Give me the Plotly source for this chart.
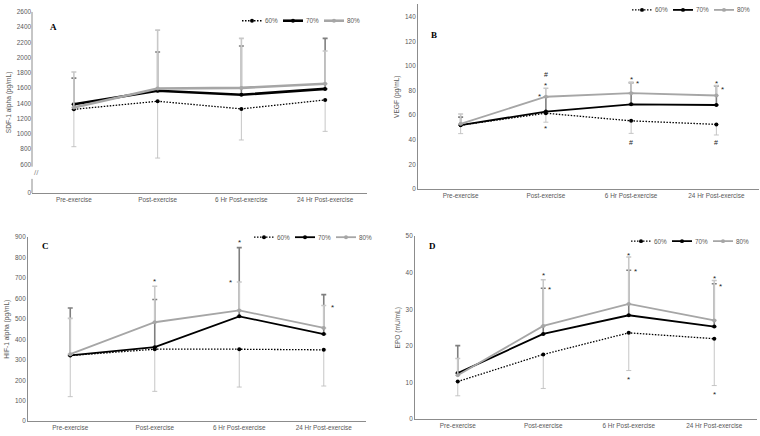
import plotly.graph_objects as go

# ---------------- data ----------------
categories = ["Pre-exercise", "Post-exercise", "6 Hr Post-exercise", "24 Hr Post-exercise"]
series_names = ["60%", "70%", "80%"]

# Panel A: SDF-1 alpha (pg/mL)
a_60 = [1322, 1428, 1328, 1445]
a_70 = [1388, 1565, 1513, 1590]
a_80 = [1346, 1595, 1603, 1658]
a_60_err_low = [490, 745, 408, 412]
a_70_err_up = [343, 508, 640, 662]
a_80_err_up = [465, 765, 650, 428]

# Panel B: VEGF (pg/mL)
b_60 = [51.9, 61.6, 55.4, 52.5]
b_70 = [52.0, 62.9, 68.8, 68.3]
b_80 = [53.0, 75.0, 77.9, 76.0]
b_60_err_low = [6.9, 7.3, 10.2, 8.6]
b_70_err_up = [6.4, 12.0, 17.7, 15.5]
b_80_err_up = [8.0, 6.9, 8.6, 8.0]

# Panel C: HIF-1 alpha (pg/mL)
c_60 = [321, 352, 352, 349]
c_70 = [322, 362, 513, 426]
c_80 = [328, 484, 542, 456]
c_60_err_low = [201, 206, 185, 177]
c_70_err_up = [232, 233, 336, 193]
c_80_err_up = [175, 176, 139, 110]

# Panel D: EPO (mU/mL)
d_60 = [10.3, 17.7, 23.6, 22.0]
d_70 = [12.6, 23.3, 28.4, 25.3]
d_80 = [12.0, 25.5, 31.5, 27.0]
d_60_err_low = [3.9, 9.3, 10.3, 12.8]
d_70_err_up = [7.5, 12.5, 12.3, 11.7]
d_80_err_up = [4.6, 12.6, 12.8, 10.9]

# significance markers: (category index, value, symbol, side)
b_marks = [(1, 93, "#", 0), (1, 85.5, "*", 0), (1, 76.5, "*", -1), (1, 50.4, "*", 0),
           (2, 90.4, "*", 0), (2, 87, "*", 1), (2, 37.6, "#", 0),
           (3, 87.2, "*", 0), (3, 82.4, "*", 1), (3, 37.6, "#", 0)]
c_marks = [(1, 691, "*", 0), (2, 882, "*", 0), (2, 686, "*", -1.4), (3, 567, "*", 1.4)]
d_marks = [(1, 39.7, "*", 0), (1, 35.9, "*", 1), (2, 45.3, "*", 0), (2, 40.8, "*", 1),
           (2, 11.5, "*", 0), (3, 39.0, "*", 0), (3, 36.7, "*", 1), (3, 7.4, "*", 0)]

panel_letters = ["A", "B", "C", "D"]
y_titles = ["SDF-1 alpha (pg/mL)", "VEGF (pg/mL)", "HIF-1 alpha (pg/mL)", "EPO (mU/mL)"]

# ---------------- style ----------------
FONT = "Liberation Sans"
TXT = "#595959"
AX = "#8c8c8c"
C60, C70, C80 = "#000000", "#000000", "#a6a6a6"
E60, E70, E80 = "#c0c0c0", "#7f7f7f", "#c8c8c8"
DOT = "1.5px,1.5px"
W = 760
H = 436

fig = go.Figure()

panels = [
    dict(d=(a_60, a_70, a_80), e=(a_60_err_low, a_70_err_up, a_80_err_up), lw=2.6,
         xd=[32 / W, 367 / W], yd=[1 - 192 / H, 1 - 8 / H], yr=[226, 2600],
         tv=[226] + list(range(600, 2601, 200)), tt=["0"] + [str(v) for v in range(600, 2601, 200)],
         leg=(242, 17), marks=[], letter=(48, 16)),
    dict(d=(b_60, b_70, b_80), e=(b_60_err_low, b_70_err_up, b_80_err_up), lw=1.8,
         xd=[418 / W, 759 / W], yd=[1 - 188 / H, 1 - 0.5 / H], yr=[0, 150],
         tv=list(range(0, 141, 20)), tt=None,
         leg=(632, 6), marks=b_marks, letter=(434, 24)),
    dict(d=(c_60, c_70, c_80), e=(c_60_err_low, c_70_err_up, c_80_err_up), lw=1.8,
         xd=[28 / W, 366 / W], yd=[1 - 424 / H, 1 - 237 / H], yr=[0, 900],
         tv=list(range(0, 901, 100)), tt=None,
         leg=(254, 237), marks=c_marks, letter=(40, 246)),
    dict(d=(d_60, d_70, d_80), e=(d_60_err_low, d_70_err_up, d_80_err_up), lw=1.8,
         xd=[415 / W, 757 / W], yd=[1 - 422 / H, 1 - 236 / H], yr=[0, 50],
         tv=list(range(0, 51, 10)), tt=None,
         leg=(631, 241), marks=d_marks, letter=(432, 246)),
]

annotations = []
shapes = []


def px(x):
    return x / W


def py(y):
    return 1 - y / H


for i, p in enumerate(panels):
    n = i + 1
    xa = "x" if n == 1 else f"x{n}"
    ya = "y" if n == 1 else f"y{n}"
    v60, v70, v80 = p["d"]
    e60, e70, e80 = p["e"]
    lw = p["lw"]
    fig.add_trace(go.Scatter(
        x=categories, y=v60, name=series_names[0], xaxis=xa, yaxis=ya, showlegend=False,
        mode="lines+markers", line=dict(color=C60, width=1.3, dash=DOT),
        marker=dict(color=C60, size=4),
        error_y=dict(type="data", symmetric=False, array=[0] * 4, arrayminus=e60,
                     color=E60, thickness=0.9, width=2.5)))
    fig.add_trace(go.Scatter(
        x=categories, y=v70, name=series_names[1], xaxis=xa, yaxis=ya, showlegend=False,
        mode="lines+markers", line=dict(color=C70, width=lw),
        marker=dict(color=C70, size=4),
        error_y=dict(type="data", symmetric=False, array=e70, arrayminus=[0] * 4,
                     color=E70, thickness=1.6, width=2.5)))
    fig.add_trace(go.Scatter(
        x=categories, y=v80, name=series_names[2], xaxis=xa, yaxis=ya, showlegend=False,
        mode="lines+markers", line=dict(color=C80, width=lw),
        marker=dict(color=C80, size=4),
        error_y=dict(type="data", symmetric=False, array=e80, arrayminus=[0] * 4,
                     color=E80, thickness=1.6, width=2.5)))

    ax_key = "xaxis" if n == 1 else f"xaxis{n}"
    ay_key = "yaxis" if n == 1 else f"yaxis{n}"
    fig.update_layout(**{
        ax_key: dict(domain=p["xd"], anchor=ya, type="category", range=[-0.5, 3.5],
                     showline=True, linecolor=AX, linewidth=1, showgrid=False, ticks="",
                     tickfont=dict(family=FONT, size=6.4, color=TXT), zeroline=False),
        ay_key: dict(domain=p["yd"], anchor=xa, range=p["yr"], tickvals=p["tv"],
                     ticktext=p["tt"], showline=(n != 1), linecolor=AX, linewidth=1,
                     showgrid=False, ticks="", zeroline=False,
                     tickfont=dict(family=FONT, size=6.4, color=TXT),
                     title=dict(text=y_titles[i], font=dict(family=FONT, size=6.6, color=TXT),
                                standoff=4)),
    })

    # legend (drawn as key samples + labels)
    lx0, ly = p["leg"]
    styles = [(C60, 1.3, DOT), (C70, lw, "solid"), (C80, lw, "solid")]
    for k, name in enumerate(series_names):
        sx = lx0 + k * 41
        col, w, dash = styles[k]
        shapes.append(dict(type="line", xref="paper", yref="paper", x0=px(sx), x1=px(sx + 20),
                           y0=py(ly), y1=py(ly), line=dict(color=col, width=w, dash=dash)))
        shapes.append(dict(type="circle", xref="paper", yref="paper", x0=px(sx + 8), x1=px(sx + 12),
                           y0=py(ly + 2), y1=py(ly - 2), fillcolor=col, line=dict(width=0)))
        annotations.append(dict(text=name, x=px(sx + 21), y=py(ly), xref="paper", yref="paper",
                                xanchor="left", yanchor="middle", showarrow=False,
                                font=dict(family=FONT, size=6.4, color=TXT)))

    # panel letter
    annotations.append(dict(text=f"<b>{panel_letters[i]}</b>", x=px(p["letter"][0]),
                            y=py(p["letter"][1]), xref="paper", yref="paper",
                            showarrow=False, font=dict(family="Liberation Serif", size=9, color="#000")))
    # significance marks
    for ci, val, sym, side in p["marks"]:
        annotations.append(dict(text=sym, x=categories[ci], y=val, xref=xa, yref=ya,
                                showarrow=False, xshift=side * 6.5,
                                yshift=-2 if sym == "*" else 0,
                                font=dict(family=FONT, size=8 if sym == "*" else 7, color="#222")))

# broken y-axis for panel A
shapes.append(dict(type="line", xref="x domain", yref="y", x0=0, x1=0, y0=226, y1=410,
                   line=dict(color=AX, width=1)))
shapes.append(dict(type="line", xref="x domain", yref="y", x0=0, x1=0, y0=570, y1=2600,
                   line=dict(color=AX, width=1)))
annotations.append(dict(text="//", x=0, y=495, xref="x domain", yref="y", showarrow=False,
                        font=dict(family=FONT, size=8, color=AX)))

fig.update_layout(width=W, height=H, margin=dict(l=0, r=0, t=0, b=0),
                  paper_bgcolor="white", plot_bgcolor="white",
                  annotations=annotations, shapes=shapes, showlegend=False)

fig.write_html("out.html", config={"displayModeBar": False},
               post_script="document.body.style.margin='0px';")
